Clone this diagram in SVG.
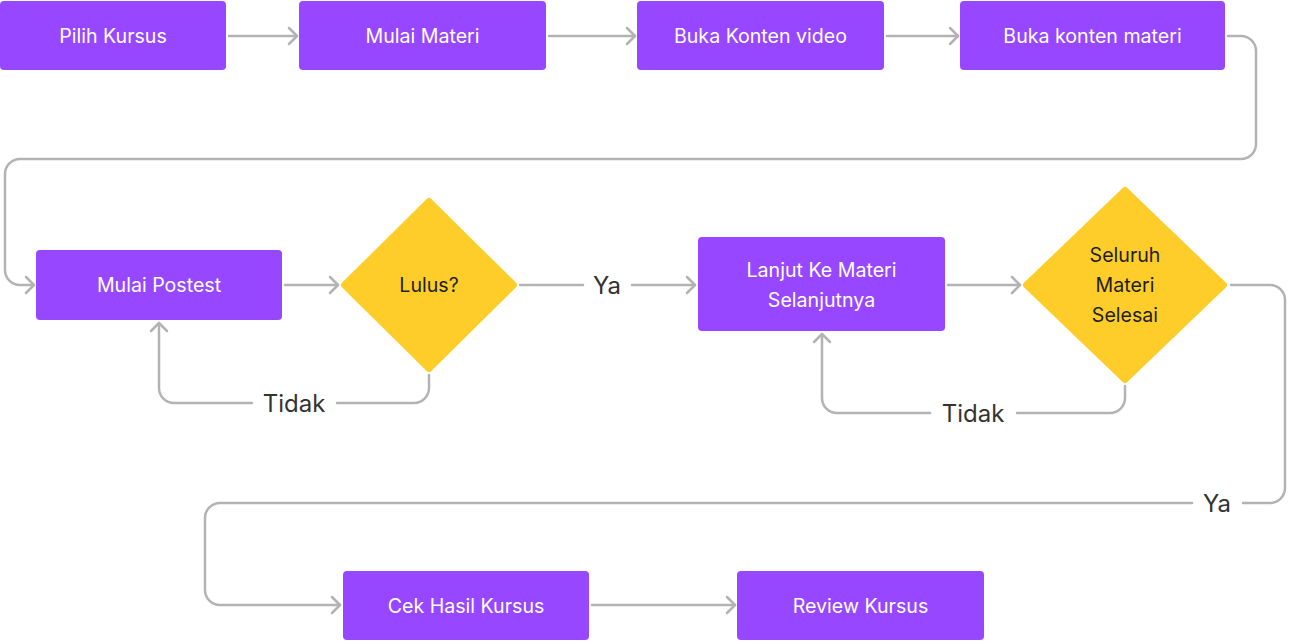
<svg xmlns="http://www.w3.org/2000/svg" width="1303" height="641" viewBox="0 0 1303 641">
<style>
.box{fill:#9747FF}
.dia{fill:#FFCD29;stroke:#FFCD29;stroke-width:6;stroke-linejoin:round}
.bt{font-family:Inter,"Liberation Sans",sans-serif;font-size:19.6px;fill:#FFFFFF;text-anchor:middle;dominant-baseline:central}
.dt{font-family:Inter,"Liberation Sans",sans-serif;font-size:19.6px;fill:#1E1E1E;text-anchor:middle;dominant-baseline:central}
.lbl{font-family:Inter,"Liberation Sans",sans-serif;font-size:24px;fill:#333333;text-anchor:middle;dominant-baseline:central}
.c{fill:none;stroke:#B3B3B3;stroke-width:2.5;stroke-linecap:round;stroke-linejoin:round}
</style>
<defs>
<marker id="ah" markerUnits="userSpaceOnUse" viewBox="-12 -12 24 24" markerWidth="24" markerHeight="24" refX="0" refY="0" orient="auto">
<path d="M-8,-8 L0,0 L-8,8" fill="none" stroke="#B3B3B3" stroke-width="2.5" stroke-linecap="round" stroke-linejoin="round"/>
</marker>
</defs>
<g id="connectors">
<path class="c" d="M229,36 H297" marker-end="url(#ah)"/>
<path class="c" d="M549,36 H635" marker-end="url(#ah)"/>
<path class="c" d="M887,36 H958" marker-end="url(#ah)"/>
<path class="c" d="M1228,36 H1241 A15,15 0 0 1 1256,51 V144 A15,15 0 0 1 1241,159 H20 A15,15 0 0 0 5,174 V270 A15,15 0 0 0 20,285 H34" marker-end="url(#ah)"/>
<path class="c" d="M285,285 H338" marker-end="url(#ah)"/>
<path class="c" d="M520,285 H583"/>
<path class="c" d="M632,285 H695" marker-end="url(#ah)"/>
<path class="c" d="M429,375 V388 A15,15 0 0 1 414,403 H337"/>
<path class="c" d="M252,403 H174 A15,15 0 0 1 159,388 V323" marker-end="url(#ah)"/>
<path class="c" d="M948,285 H1020" marker-end="url(#ah)"/>
<path class="c" d="M1125,386 V398 A15,15 0 0 1 1110,413 H1017"/>
<path class="c" d="M930,413 H837 A15,15 0 0 1 822,398 V334" marker-end="url(#ah)"/>
<path class="c" d="M1231,285 H1270 A15,15 0 0 1 1285,300 V488 A15,15 0 0 1 1270,503 H1243"/>
<path class="c" d="M1192,503 H220 A15,15 0 0 0 205,518 V590 A15,15 0 0 0 220,605 H340" marker-end="url(#ah)"/>
<path class="c" d="M592,605 H735" marker-end="url(#ah)"/>
<text class="lbl" x="607" y="285">Ya</text>
<text class="lbl" x="294" y="403">Tidak</text>
<text class="lbl" x="973" y="413">Tidak</text>
<text class="lbl" x="1217" y="503">Ya</text>
</g>
<g id="n1"><rect class="box" x="0" y="1" width="226" height="69" rx="4"/><text class="bt" x="113" y="36">Pilih Kursus</text></g>
<g id="n2"><rect class="box" x="299" y="1" width="247" height="69" rx="4"/><text class="bt" x="422.5" y="36">Mulai Materi</text></g>
<g id="n3"><rect class="box" x="637" y="1" width="247" height="69" rx="4"/><text class="bt" x="760.5" y="36">Buka Konten video</text></g>
<g id="n4"><rect class="box" x="960" y="1" width="265" height="69" rx="4"/><text class="bt" x="1092.5" y="36">Buka konten materi</text></g>
<g id="n5"><rect class="box" x="36" y="250" width="246" height="70" rx="4"/><text class="bt" x="159" y="285">Mulai Postest</text></g>
<g id="n6"><polygon class="dia" points="429,201 514,285 429,369 344,285"/><text class="dt" x="429" y="285">Lulus?</text></g>
<g id="n7"><rect class="box" x="698" y="237" width="247" height="94" rx="4"/><text class="bt" x="821.5" y="270">Lanjut Ke Materi</text><text class="bt" x="821.5" y="300">Selanjutnya</text></g>
<g id="n8"><polygon class="dia" points="1125,190 1224,285 1125,380 1026,285"/><text class="dt" x="1125" y="255">Seluruh</text><text class="dt" x="1125" y="285">Materi</text><text class="dt" x="1125" y="315">Selesai</text></g>
<g id="n9"><rect class="box" x="343" y="571" width="246" height="69" rx="4"/><text class="bt" x="466" y="606">Cek Hasil Kursus</text></g>
<g id="n10"><rect class="box" x="737" y="571" width="247" height="69" rx="4"/><text class="bt" x="860.5" y="606">Review Kursus</text></g>
</svg>
